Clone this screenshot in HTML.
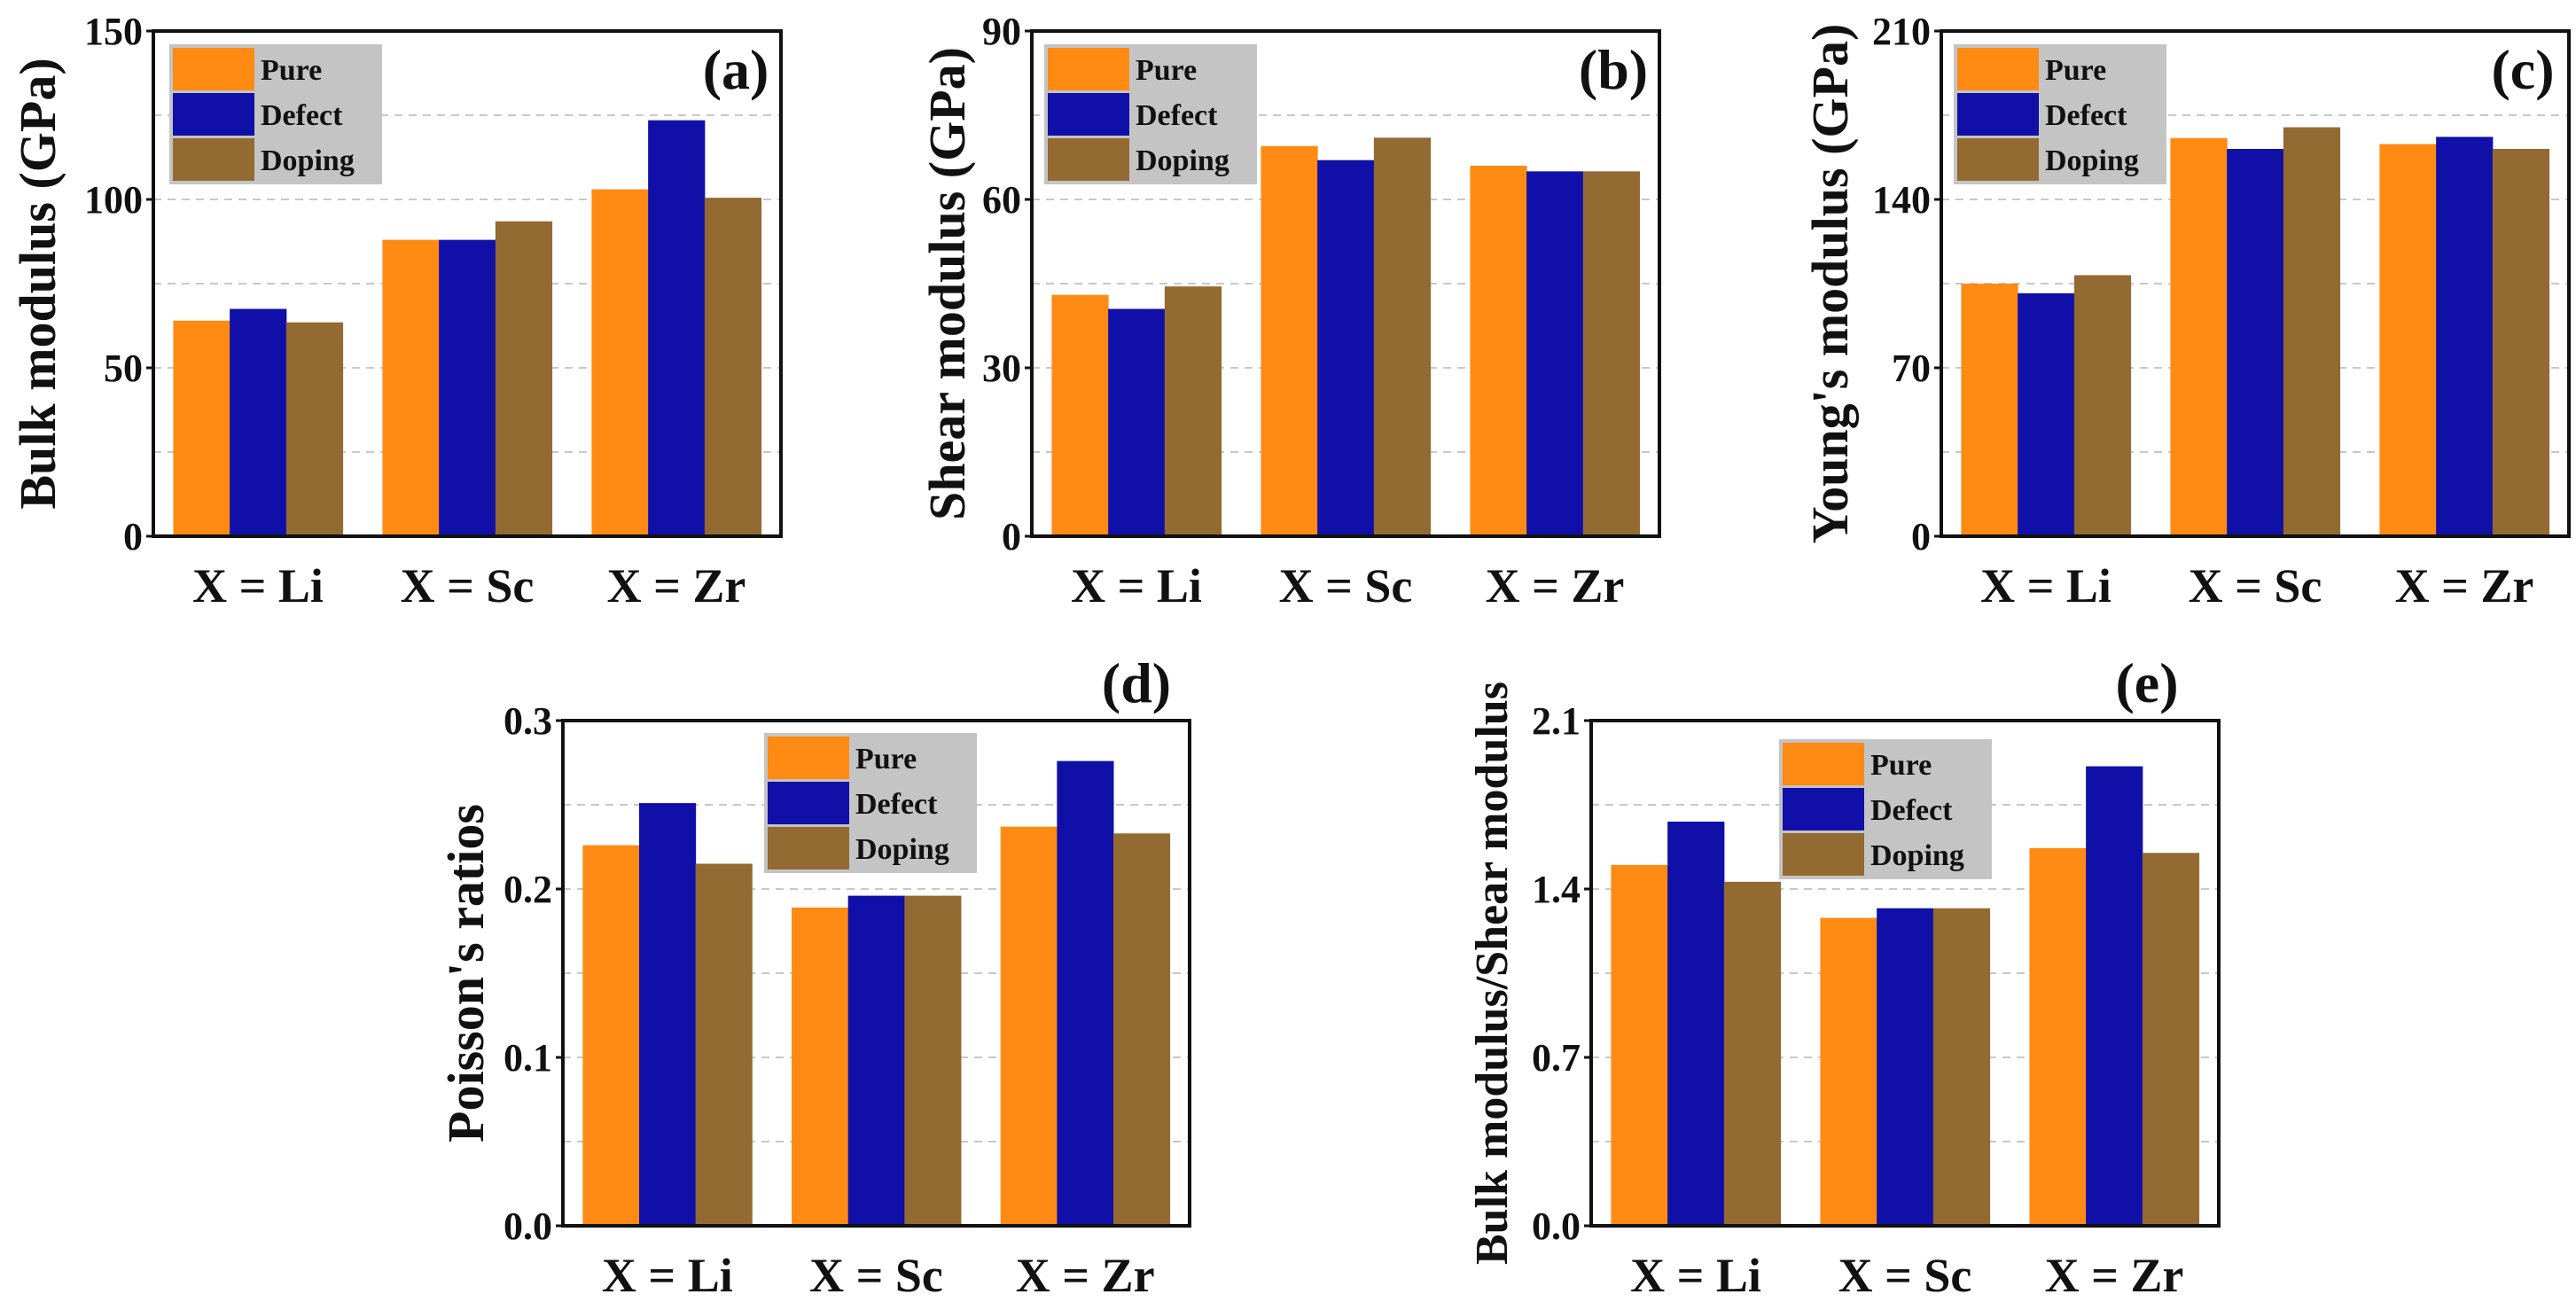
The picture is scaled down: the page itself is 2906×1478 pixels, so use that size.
<!DOCTYPE html>
<html><head><meta charset="utf-8"><style>
html,body{margin:0;padding:0;background:#fff;}
svg{display:block;}
text{font-family:"Liberation Serif",serif;font-weight:bold;fill:#111;}
</style></head><body>
<svg id="fig" width="2906" height="1478" viewBox="0 0 2906 1478" xmlns="http://www.w3.org/2000/svg"></svg>
<script>
const categories = ["X = Li", "X = Sc", "X = Zr"];
const seriesNames = ["Pure", "Defect", "Doping"];
const bulkPure = [64, 88, 103];
const bulkDefect = [67.5, 88, 123.5];
const bulkDoping = [63.5, 93.5, 100.5];
const shearPure = [43, 69.5, 66];
const shearDefect = [40.5, 67, 65];
const shearDoping = [44.5, 71, 65];
const youngPure = [105, 165.5, 163];
const youngDefect = [101, 161, 166];
const youngDoping = [108.5, 170, 161];
const poissonPure = [0.226, 0.189, 0.237];
const poissonDefect = [0.251, 0.196, 0.276];
const poissonDoping = [0.215, 0.196, 0.233];
const ratioPure = [1.50, 1.28, 1.57];
const ratioDefect = [1.68, 1.32, 1.91];
const ratioDoping = [1.43, 1.32, 1.55];
const bulkTicks = [0, 50, 100, 150];
const shearTicks = [0, 30, 60, 90];
const youngTicks = [0, 70, 140, 210];
const poissonTicks = ["0.0", "0.1", "0.2", "0.3"];
const ratioTicks = ["0.0", "0.7", "1.4", "2.1"];

const colors = ["#FF8A14", "#1010A8", "#926A32"];
const NS = "http://www.w3.org/2000/svg";
const svg = document.getElementById("fig");
function mk(tag, attrs, parent){
  const e = document.createElementNS(NS, tag);
  for (const k in attrs) e.setAttribute(k, attrs[k]);
  (parent || svg).appendChild(e);
  return e;
}

function panel(cfg){
  const g = mk("g", {});
  
  
  const L = cfg.x0, R = cfg.x1, T = cfg.y0, B = cfg.y1;
  const ticks = cfg.ticks.map(Number);
  const ymax = ticks[ticks.length-1];
  const yS = v => B - (v / ymax) * (B - T);
  const unit = (R - L) / categories.length;
  const xC = i => L + unit * (i + 0.5);
  const step = ticks[1] / 2;
  for (let v = step; v < ymax - 1e-9; v += step) {
    const gl = mk("line", {x1:L, x2:R, y1:yS(v), y2:yS(v), stroke:"#c8c8c8", "stroke-width":2, "stroke-dasharray":"9 7"}, g);
    
    
  }
  const bw = unit * 0.27;
  cfg.series.forEach((arr, s) => {
    arr.forEach((v, i) => {
      const x = xC(i) + (s - 1.5) * bw;
      const r = mk("rect", {x:x, y:yS(v), width:bw+0.5, height:B - yS(v), fill:colors[s]}, g);
      
      
    });
  });
  const fr = mk("rect", {x:L, y:T, width:R-L, height:B-T, fill:"none", stroke:"#111", "stroke-width":4}, g);
  
  
  cfg.ticks.forEach((t) => {
    const y = yS(Number(t));
    const tk = mk("line", {x1:L-8, x2:L, y1:y, y2:y, stroke:"#111", "stroke-width":3}, g);
    
    
    const tl = mk("text", {x:L-12, y:y+15, "text-anchor":"end", "font-size":44}, g);
    tl.textContent = t;
    
    
  });
  categories.forEach((c, i) => {
    const xl = mk("text", {x:xC(i), y:B+74, "text-anchor":"middle", "font-size":54}, g);
    xl.textContent = c;
    
    
  });
  const yt = mk("text", {x:cfg.tx, y:(T+B)/2, "text-anchor":"middle", "font-size":cfg.tfs || 58, transform:`rotate(-90 ${cfg.tx} ${(T+B)/2})`}, g);
  yt.textContent = cfg.title;
  
  
  const pl = mk("text", {x:cfg.lx, y:cfg.ly, "text-anchor":"middle", "font-size":64}, g);
  pl.textContent = cfg.label;
  
  
  const lg = mk("g", {}, g);
  
  
  const lx = cfg.legx, ly = cfg.legy;
  mk("rect", {x:lx, y:ly, width:240, height:158, fill:"#c4c4c4"}, lg);
  seriesNames.forEach((n, s) => {
    const sw = mk("rect", {x:lx+4, y:ly+4+s*51, width:92, height:48, fill:colors[s]}, lg);
    
    
    const tx = mk("text", {x:lx+103, y:ly+40+s*51, "font-size":34}, lg);
    tx.textContent = n;
    
    
  });
}

panel({id:"bulk", x0:173, x1:881, y0:35, y1:605, ticks:bulkTicks, series:[bulkPure,bulkDefect,bulkDoping],
  title:"Bulk modulus (GPa)", tx:62, label:"(a)", lx:830, ly:100, legx:191, legy:50});
panel({id:"shear", x0:1164, x1:1872, y0:35, y1:605, ticks:shearTicks, series:[shearPure,shearDefect,shearDoping],
  title:"Shear modulus (GPa)", tx:1088, label:"(b)", lx:1820, ly:100, legx:1178, legy:50});
panel({id:"young", x0:2190, x1:2898, y0:35, y1:605, ticks:youngTicks, series:[youngPure,youngDefect,youngDoping],
  title:"Young's modulus (GPa)", tx:2084, label:"(c)", lx:2846, ly:100, legx:2204, legy:50});
panel({id:"poisson", x0:635, x1:1342, y0:813, y1:1383, ticks:poissonTicks, series:[poissonPure,poissonDefect,poissonDoping],
  title:"Poisson's ratios", tx:545, label:"(d)", lx:1282, ly:792, legx:862, legy:827});
panel({id:"ratio", x0:1795, x1:2503, y0:813, y1:1383, ticks:ratioTicks, series:[ratioPure,ratioDefect,ratioDoping],
  title:"Bulk modulus/Shear modulus", tx:1700, tfs:52, label:"(e)", lx:2422, ly:792, legx:2007, legy:834});
</script>
</body></html>
